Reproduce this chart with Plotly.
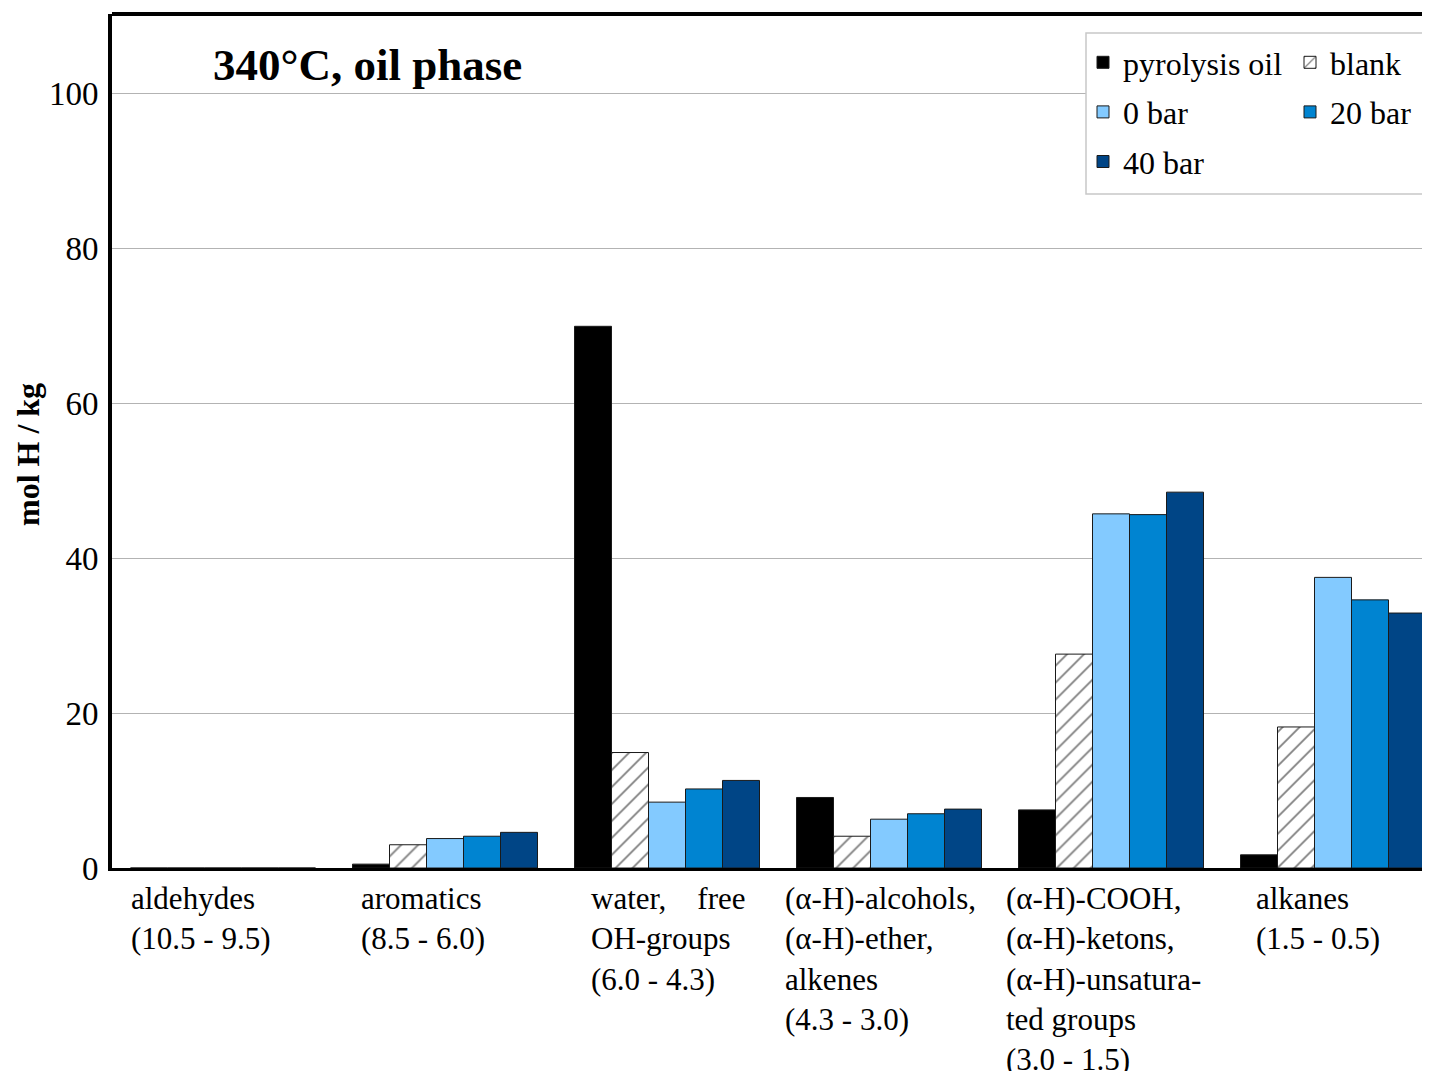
import plotly.graph_objects as go

categories = ["aldehydes", "aromatics", "water", "alcohols", "COOH", "alkanes"]
cat_labels = [
    "aldehydes<br>(10.5 - 9.5)",
    "aromatics<br>(8.5 - 6.0)",
    "water,\u00a0\u00a0\u00a0\u00a0free<br>OH-groups<br>(6.0 - 4.3)",
    "(α-H)-alcohols,<br>(α-H)-ether,<br>alkenes<br>(4.3 - 3.0)",
    "(α-H)-COOH,<br>(α-H)-ketons,<br>(α-H)-unsatura-<br>ted groups<br>(3.0 - 1.5)",
    "alkanes<br>(1.5 - 0.5)",
]
label_shift = [-94, -86, -78, -106, -107, -79]

pyrolysis_oil = [0.0, 0.5, 69.9, 9.1, 7.5, 1.7]
blank = [0.0, 3.0, 14.9, 4.1, 27.6, 18.2]
bar0 = [0.0, 3.8, 8.5, 6.3, 45.7, 37.5]
bar20 = [0.0, 4.1, 10.2, 7.0, 45.6, 34.6]
bar40 = [0.0, 4.6, 11.3, 7.6, 48.5, 32.9]

yticks = [0, 20, 40, 60, 80, 100]

FONT = "Liberation Serif"
OFF = 8  # page body margin
W, H = 1430 - OFF, 1071 - OFF
L, T = 112 - OFF, 14 - OFF
B = H - (868 - OFF)
R = 0
pw, ph = W - L - R, H - T - B

def px_x(px):
    return (px - OFF - L) / pw

def px_y(py):
    return (H - B - (py - OFF)) / ph

x = list(range(len(categories)))
line = dict(color="#1a1a1a", width=1)

fig = go.Figure()
fig.add_trace(go.Bar(x=x, y=pyrolysis_oil, name="pyrolysis oil", legend="legend",
                     legendgroup="a", marker=dict(color="#000000", line=line)))
fig.add_trace(go.Bar(x=x, y=blank, name="blank", legend="legend2", legendgroup="b",
                     marker=dict(color="#ffffff", line=line,
                                 pattern=dict(shape="/", fgcolor="#000000", bgcolor="#ffffff",
                                              size=12, solidity=0.15))))
fig.add_trace(go.Bar(x=x, y=bar0, name="0 bar", legend="legend", legendgroup="c",
                     marker=dict(color="#83caff", line=line)))
fig.add_trace(go.Bar(x=x, y=bar20, name="20 bar", legend="legend2", legendgroup="d",
                     marker=dict(color="#0084d1", line=line)))
fig.add_trace(go.Bar(x=x, y=bar40, name="40 bar", legend="legend", legendgroup="e",
                     marker=dict(color="#004586", line=line)))

cat_w = 222.0
fig.update_layout(
    width=W, height=H,
    margin=dict(l=L, r=R, t=T, b=B, pad=0),
    paper_bgcolor="white", plot_bgcolor="white",
    font=dict(family=FONT, size=32, color="black"),
    barmode="group", bargap=1/6, bargroupgap=0,
    xaxis=dict(range=[-0.5, -0.5 + pw / cat_w], showticklabels=False, ticks="",
               showgrid=False, zeroline=False, showline=True, linecolor="black",
               linewidth=3),
    yaxis=dict(range=[0, 110.2], tickvals=yticks, showgrid=True, gridcolor="#b3b3b3",
               gridwidth=1, zeroline=False, showline=True, linecolor="black", linewidth=4,
               ticks="", ticklabelstandoff=3, tickfont=dict(family=FONT, size=33)),
    legend=dict(x=px_x(1083), y=px_y(35), xanchor="left", yanchor="top",
                bgcolor="rgba(0,0,0,0)", borderwidth=0, traceorder="grouped",
                tracegroupgap=5, font=dict(family=FONT, size=32)),
    legend2=dict(x=px_x(1290), y=px_y(35), xanchor="left", yanchor="top",
                 bgcolor="rgba(0,0,0,0)", borderwidth=0, traceorder="grouped",
                 tracegroupgap=5, font=dict(family=FONT, size=32)),
    showlegend=True,
)

# legend frame
fig.add_shape(type="rect", xref="paper", yref="paper",
              x0=px_x(1086), x1=px_x(1425), y0=px_y(194), y1=px_y(33),
              line=dict(color="#c8c8c8", width=1.5), fillcolor="white", layer="above")
# top border
fig.add_shape(type="line", xref="paper", yref="paper", x0=0, x1=1, y0=1, y1=1,
              line=dict(color="black", width=4), layer="above")

# title
fig.add_annotation(text="<b>340°C, oil phase</b>", xref="paper", yref="paper",
                   x=px_x(211), y=px_y(65), xanchor="left", yanchor="middle",
                   showarrow=False, font=dict(family=FONT, size=45, color="black"))

# y axis title
fig.add_annotation(text="<b>mol H / kg</b>", xref="paper", yref="paper",
                   x=px_x(28), y=px_y(455), xanchor="center", yanchor="middle",
                   textangle=-90, showarrow=False,
                   font=dict(family=FONT, size=32, color="black"))

# category labels
for i, (lab, sh) in enumerate(zip(cat_labels, label_shift)):
    fig.add_annotation(text=lab, x=i, xref="x", y=0, yref="paper", xanchor="left",
                       yanchor="top", align="left", showarrow=False, xshift=sh, yshift=-11,
                       font=dict(family=FONT, size=31, color="black"))

fig.write_html("out.html")
